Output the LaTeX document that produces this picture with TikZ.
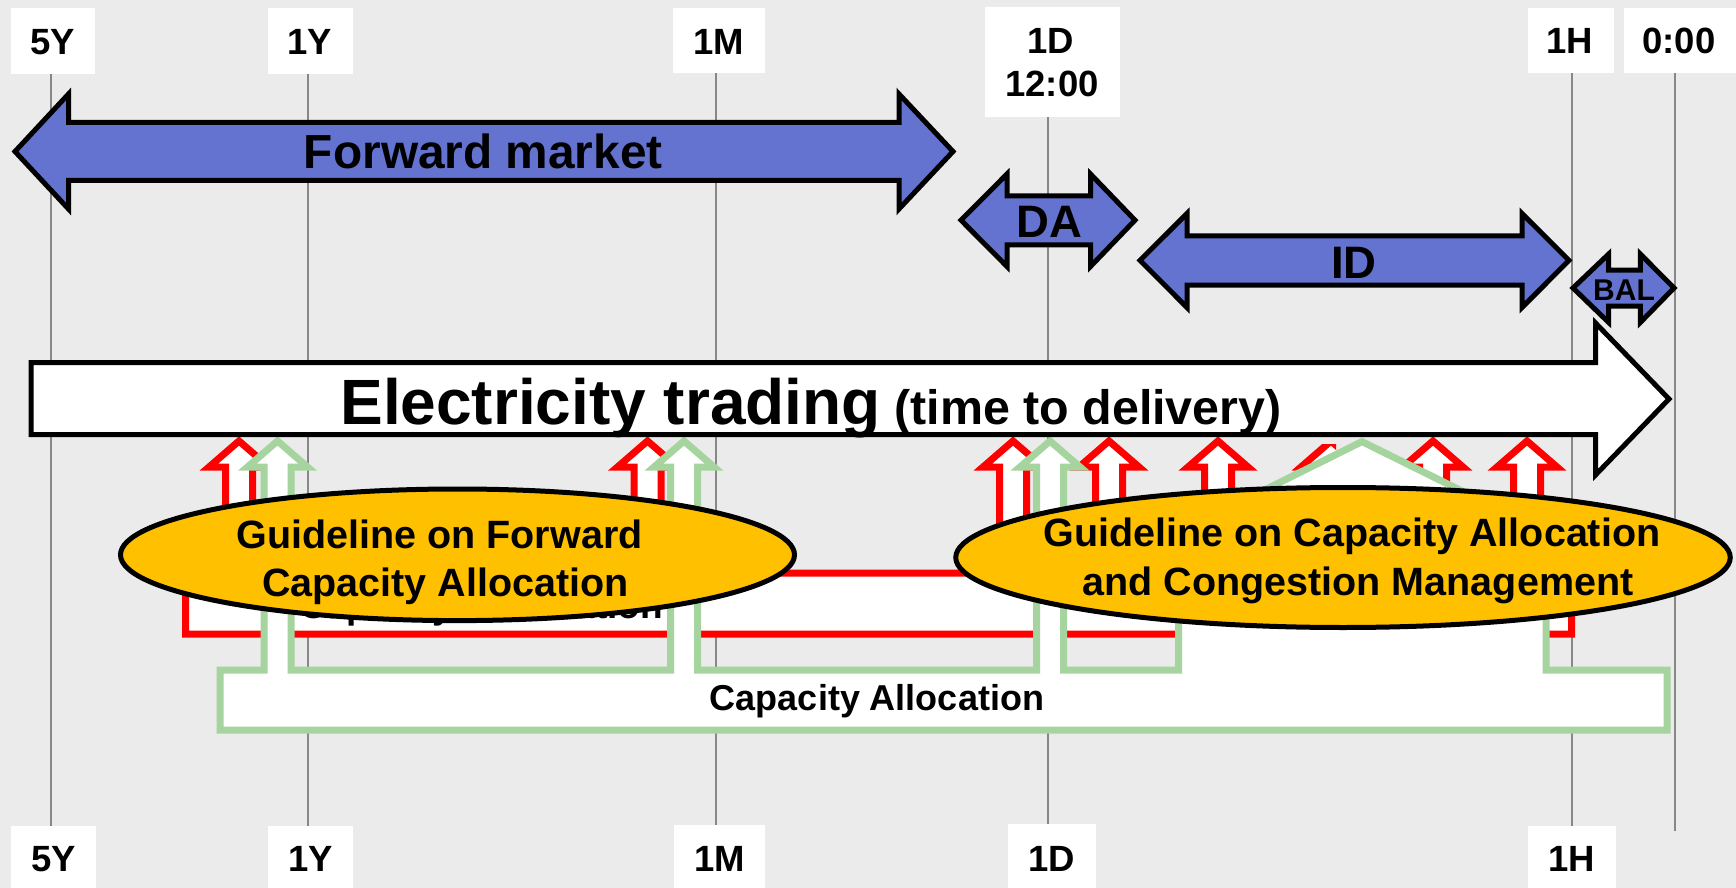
\documentclass[tikz,border=0pt]{standalone}
\usepackage{fontspec}
\setmainfont{Liberation Sans}
\usetikzlibrary{shapes.geometric}
\definecolor{bggrey}{RGB}{235,235,235}
\definecolor{vline}{RGB}{135,135,135}
\definecolor{mblue}{RGB}{100,115,208}
\definecolor{gold}{RGB}{255,192,0}
\definecolor{gline}{RGB}{166,212,158}
\newcommand\myfs[1]{\fontsize{#1}{#1}\selectfont\bfseries}
\newcommand\upa[2]{-- (#1-13.5,#2) -- (#1-13.5,467) -- (#1-30,467) -- (#1,441) -- (#1+30,467) -- (#1+13.5,467) -- (#1+13.5,#2)}
\begin{document}
\begin{tikzpicture}[x=0.5pt,y=-0.5pt,
  vl/.style={draw=vline,line width=0.8pt},
  lbl/.style={inner sep=0pt,anchor=base,font=\myfs{18.25pt}},
  blk/.style={draw=black,line width=2.5pt,line join=miter,miter limit=8},
  barr/.style={blk,fill=mblue},
  redsh/.style={draw=red,fill=white,line width=3.5pt,line join=miter,miter limit=8},
  grnsh/.style={draw=gline,fill=white,line width=3.5pt,line join=miter,miter limit=8},
  ell/.style={ellipse,draw=black,fill=gold,line width=2.5pt,inner sep=0pt}]
\useasboundingbox (0,0) rectangle (1736,888);
\fill[bggrey] (0,0) rectangle (1736,888);
% time lines
\foreach \x/\a/\b in {51/74/826, 308/74/826, 716/73/825, 1048/117/824, 1572/73/826, 1675/73/831}
  \draw[vl] (\x,\a) -- (\x,\b);
% label boxes top
\fill[white] (11,8) rectangle (95,74);
\fill[white] (268,8) rectangle (352.5,74);
\fill[white] (673,8) rectangle (765,73);
\fill[white] (985,7) rectangle (1120,117);
\fill[white] (1528,8) rectangle (1614,73);
\fill[white] (1623.5,8) rectangle (1736,73);
% label boxes bottom
\fill[white] (11,826) rectangle (96,888);
\fill[white] (268,826) rectangle (353,888);
\fill[white] (674,825) rectangle (765,888);
\fill[white] (1008,824) rectangle (1096,888);
\fill[white] (1528,826) rectangle (1616,888);
% label texts
\node[lbl] (t5y) at (53,55) {5Y};
\node[lbl] (t1y) at (309.4,55) {1Y};
\node[lbl] (t1m) at (719,54.5) {1M};
\node[lbl] (t1d) at (1051,53.5) {1D};
\node[lbl] (t12) at (1052,97) {12:00};
\node[lbl] (t1h) at (1570,54) {1H};
\node[lbl] (t00) at (1679,54) {0:00};
\node[lbl] (b5y) at (53.7,871.7) {5Y};
\node[lbl] (b1y) at (311,871.7) {1Y};
\node[lbl] (b1m) at (719.8,871.7) {1M};
\node[lbl] (b1d) at (1052,871.7) {1D};
\node[lbl] (b1h) at (1571.5,871.7) {1H};
% market arrows
\draw[barr] (15,151.5) -- (68.5,94) -- (68.5,122.5) -- (899,122.5) -- (899,94) -- (953,151.5) -- (899,209) -- (899,180.5) -- (68.5,180.5) -- (68.5,209) -- cycle;
\draw[barr] (961,220.2) -- (1007,174) -- (1007,195.8) -- (1090.5,195.8) -- (1090.5,174) -- (1135,220.2) -- (1090.5,266.5) -- (1090.5,244.8) -- (1007,244.8) -- (1007,266.5) -- cycle;
\draw[barr] (1140,260.4) -- (1187,213.5) -- (1187,235.8) -- (1522,235.8) -- (1522,213.5) -- (1569,260.4) -- (1522,307.5) -- (1522,285) -- (1187,285) -- (1187,307.5) -- cycle;
\draw[barr] (1573,288) -- (1608.7,254) -- (1608.7,270) -- (1640.3,270) -- (1640.3,254) -- (1674,288) -- (1640.3,322.5) -- (1640.3,306) -- (1608.7,306) -- (1608.7,322.5) -- cycle;
\node[lbl,font=\myfs{23.9pt}] (fm) at (483.3,169) {Forward market};
\node[lbl,font=\myfs{22.75pt}] (da) at (1049,237.7) {DA};
\node[lbl,font=\myfs{22.75pt}] (id) at (1354,278.3) {ID};
\node[lbl,font=\myfs{15pt}] (bal) at (1624,300) {BAL};
% partly hidden red arrow
\begin{scope}
\clip (1250,444) rectangle (1336,600);
\draw[redsh] (1331-13.5,580) -- (1331-13.5,467) -- (1331-30,467) -- (1331,441) -- (1331+30,467) -- (1331+13.5,467) -- (1331+13.5,580) -- cycle;
\end{scope}
% capacity calculation (red)
\draw[redsh] (185.6,634) -- (185.6,573) \upa{239}{573} \upa{647.5}{573} \upa{1013}{573} \upa{1109}{573} \upa{1218}{573} \upa{1433}{573} \upa{1527}{573} -- (1571.7,573) -- (1571.7,634) -- cycle;
\node[lbl,font=\myfs{18.5pt}] (cc) at (481,618) {Capacity Calculation};
% capacity allocation (green)
\draw[grnsh] (220,730) -- (220,670) \upa{277.5}{670} \upa{684}{670} \upa{1050}{670} -- (1178.6,670) -- (1178.6,532.7) -- (1362,441.6) -- (1546,532.7) -- (1546,670) -- (1667,670) -- (1667,730) -- cycle;
\node[lbl,font=\myfs{18pt}] (ca) at (877,710) {Capacity Allocation};
% electricity trading arrow
\draw[blk,fill=white] (31,362.5) -- (1595.5,362.5) -- (1595.5,323) -- (1669,399) -- (1595.5,475) -- (1595.5,434.5) -- (31,434.5) -- cycle;
\node[lbl,font=\myfs{24.2pt}] (et) at (811,424) {{\myfs{32pt}Electricity trading} (time to delivery)};
% guideline ellipses
\node[ell,minimum width=337pt,minimum height=65.8pt] (ell1) at (457.5,554.8) {};
\node[ell,minimum width=387.25pt,minimum height=70pt] (ell2) at (1343,557.5) {};
\node[lbl,font=\myfs{19.75pt}] (e1a) at (439.5,548.3) {Guideline on Forward};
\node[lbl,font=\myfs{19.75pt}] (e1b) at (445.5,596.7) {Capacity Allocation};
\node[lbl,font=\myfs{19.75pt}] (e2a) at (1352,546.7) {Guideline on Capacity Allocation};
\node[lbl,font=\myfs{19.75pt}] (e2b) at (1358,595) {and Congestion Management};
\end{tikzpicture}
\end{document}
